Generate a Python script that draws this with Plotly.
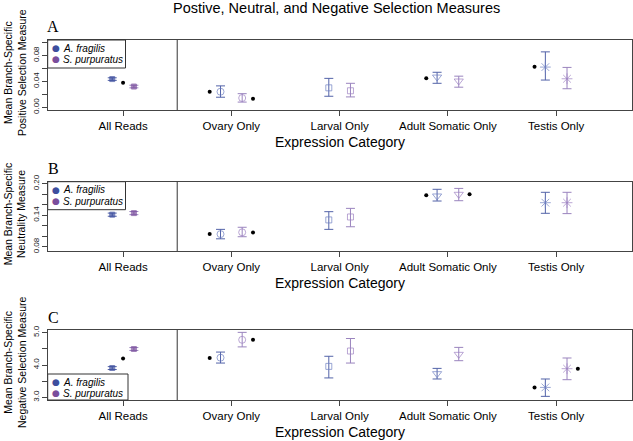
import plotly.graph_objects as go

W, H = 633, 441

categories = ["All Reads", "Ovary Only", "Larval Only", "Adult Somatic Only", "Testis Only"]
species = ["A. fragilis", "S. purpuratus"]

# Panel A: positive selection
posA_frag = [0.0435, 0.024, 0.030, 0.0466, 0.062]
posA_frag_lo = [0.0415, 0.0155, 0.017, 0.037, 0.042]
posA_frag_hi = [0.0455, 0.033, 0.0446, 0.054, 0.0855]
posA_purp = [0.032, 0.0143, 0.0255, 0.0405, 0.044]
posA_purp_lo = [0.030, 0.008, 0.016, 0.031, 0.0286]
posA_purp_hi = [0.034, 0.021, 0.037, 0.048, 0.0615]
sigA_cat = ["All Reads", "Ovary Only", "Ovary Only", "Adult Somatic Only", "Testis Only"]
sigA_side = ["center", "left", "right", "left", "left"]
sigA_val = [0.038, 0.024, 0.013, 0.0446, 0.0625]

# Panel B: neutrality
neuB_frag = [0.141, 0.104, 0.131, 0.1766, 0.1638]
neuB_frag_lo = [0.138, 0.095, 0.113, 0.167, 0.1436]
neuB_frag_hi = [0.144, 0.113, 0.1467, 0.1893, 0.1836]
neuB_purp = [0.144, 0.1074, 0.1366, 0.1798, 0.1638]
neuB_purp_lo = [0.141, 0.099, 0.118, 0.1676, 0.143]
neuB_purp_hi = [0.147, 0.117, 0.153, 0.191, 0.1836]
sigB_cat = ["Ovary Only", "Ovary Only", "Adult Somatic Only", "Adult Somatic Only"]
sigB_side = ["left", "right", "left", "right"]
sigB_val = [0.104, 0.107, 0.178, 0.180]

# Panel C: negative selection
negC_frag = [3.907, 4.226, 3.957, 3.732, 3.307]
negC_frag_lo = [3.86, 4.06, 3.60, 3.567, 3.03]
negC_frag_hi = [3.95, 4.40, 4.27, 3.895, 3.567]
negC_purp = [4.495, 4.78, 4.433, 4.33, 3.886]
negC_purp_lo = [4.45, 4.56, 4.06, 4.133, 3.545]
negC_purp_hi = [4.54, 5.01, 4.82, 4.545, 4.217]
sigC_cat = ["All Reads", "Ovary Only", "Ovary Only", "Testis Only", "Testis Only"]
sigC_side = ["center", "left", "right", "left", "right"]
sigC_val = [4.20, 4.22, 4.78, 3.307, 3.886]

yticksA = [0.00, 0.02, 0.04, 0.06, 0.08, 0.10]
ylabelsA = ["0.00", "", "0.04", "", "0.08", ""]
yticksB = [0.08, 0.10, 0.12, 0.14, 0.16, 0.18, 0.20]
ylabelsB = ["0.08", "", "", "0.14", "", "", "0.20"]
yticksC = [3.0, 3.5, 4.0, 4.5, 5.0]
ylabelsC = ["3.0", "", "4.0", "", "5.0"]

# ---- styling ----
symbols = ["square", "circle-open", "square-open", "triangle-down-open", "asterisk-open"]
sizes = [5, 7, 6, 8, 9]
frag_fill = "#3D4E9E"
frag_open = "#6F80C2"
frag_err = "#5363A8"
purp_fill = "#7A4E9C"
purp_open = "#9C80C2"
purp_err = "#9A84BE"
OFF = 0.1
SIG_OFF = 0.2
side_off = {"left": -SIG_OFF, "center": 0.0, "right": SIG_OFF}
FONT = "Liberation Sans, Arial, sans-serif"

def px2x(p):
    return p / W

def py2y(p):
    return 1 - p / H

def note(text, px, py, size, family=FONT, color="black", xanchor="center", angle=0):
    return dict(text=text, xref="paper", yref="paper", x=px2x(px), y=py2y(py),
                xanchor=xanchor, yanchor="middle", showarrow=False, textangle=angle,
                font=dict(family=family, size=size, color=color))

x_dom = [px2x(47.7), px2x(632)]
panels = [
    dict(top=40, bot=110, frag=(posA_frag, posA_frag_lo, posA_frag_hi),
         purp=(posA_purp, posA_purp_lo, posA_purp_hi),
         sig=(sigA_cat, sigA_side, sigA_val), rng=[-0.0042, 0.1038],
         tv=yticksA, tt=ylabelsA, letter="A",
         ytitle="Mean Branch-Specific<br>Positive Selection Measure", leg="top"),
    dict(top=181.7, bot=251, frag=(neuB_frag, neuB_frag_lo, neuB_frag_hi),
         purp=(neuB_purp, neuB_purp_lo, neuB_purp_hi),
         sig=(sigB_cat, sigB_side, sigB_val), rng=[0.0718, 0.2038],
         tv=yticksB, tt=ylabelsB, letter="B",
         ytitle="Mean Branch-Specific<br>Neutrality Measure", leg="top"),
    dict(top=330, bot=400, frag=(negC_frag, negC_frag_lo, negC_frag_hi),
         purp=(negC_purp, negC_purp_lo, negC_purp_hi),
         sig=(sigC_cat, sigC_side, sigC_val), rng=[2.917, 5.083],
         tv=yticksC, tt=ylabelsC, letter="C",
         ytitle="Mean Branch-Specific<br>Negative Selection Measure", leg="bottom"),
]

fig = go.Figure()
shapes = []
annotations = []
xpos = list(range(1, len(categories) + 1))

for i, p in enumerate(panels):
    k = "" if i == 0 else str(i + 1)
    xa, ya = "x" + k, "y" + k
    for (vals, lo, hi), off, fill, opn, ecol in [
        (p["frag"], -OFF, frag_fill, frag_open, frag_err),
        (p["purp"], OFF, purp_fill, purp_open, purp_err),
    ]:
        cols = [fill] + [opn] * (len(vals) - 1)
        fig.add_trace(go.Scatter(
            x=[c + off for c in xpos], y=vals, mode="markers",
            xaxis=xa, yaxis=ya, showlegend=False, hoverinfo="skip",
            marker=dict(symbol=symbols, size=sizes, color=cols,
                        line=dict(width=1, color=cols)),
            error_y=dict(type="data", symmetric=False,
                         array=[h - v for h, v in zip(hi, vals)],
                         arrayminus=[v - l for v, l in zip(vals, lo)],
                         color=ecol, thickness=1, width=4.5),
        ))
    scat, sside, sval = p["sig"]
    fig.add_trace(go.Scatter(
        x=[categories.index(c) + 1 + side_off[s] for c, s in zip(scat, sside)],
        y=sval, mode="markers", xaxis=xa, yaxis=ya, showlegend=False,
        hoverinfo="skip", marker=dict(symbol="circle", size=4, color="black"),
    ))
    ydom = [py2y(p["bot"]), py2y(p["top"])]
    fig.layout["xaxis" + k] = dict(
        domain=x_dom, range=[0.304, 5.70], anchor=ya, automargin=False,
        tickvals=xpos, ticktext=categories, ticks="outside", ticklen=5,
        tickcolor="#444", showline=True, linecolor="#444", linewidth=1,
        mirror=True, showgrid=False, zeroline=False,
        tickfont=dict(family=FONT, size=11.5, color="black"),
    )
    fig.layout["yaxis" + k] = dict(
        domain=ydom, range=p["rng"], anchor=xa, automargin=False,
        tickvals=p["tv"], ticktext=p["tt"], ticks="outside", ticklen=5,
        tickcolor="#444", showline=True, linecolor="#444", linewidth=1,
        mirror=True, showgrid=False, zeroline=False, tickangle=-90,
        tickfont=dict(family=FONT, size=8, color="#222"),
    )
    shapes.append(dict(type="line", xref=xa, yref=ya + " domain",
                       x0=1.5, x1=1.5, y0=0, y1=1,
                       line=dict(color="#333", width=1)))
    annotations.append(note(p["letter"], 53, p["top"] - 13, 16,
                            family="Liberation Serif, serif"))
    mid = (p["top"] + p["bot"]) / 2 - 2
    annotations.append(note(p["ytitle"], 15, mid, 10.5, angle=-90))
    annotations.append(note("Expression Category", 340, p["bot"] + 32, 14))
    if p["leg"] == "top":
        bx0, bx1, by0, by1 = 47.7, 125.5, p["top"], p["top"] + 28
    else:
        bx0, bx1, by0, by1 = 47.7, 128, p["bot"] - 26, p["bot"]
    shapes.append(dict(type="rect", xref="paper", yref="paper",
                       x0=px2x(bx0), x1=px2x(bx1), y0=py2y(by1), y1=py2y(by0),
                       fillcolor="white", line=dict(color="#333", width=1), layer="above"))
    for j, (name, col) in enumerate(zip(species, [frag_fill, purp_fill])):
        yy = by0 + 8 + j * 11.3
        annotations.append(note("●", 56, yy, 9, family="DejaVu Sans", color=col))
        annotations.append(note("<i>" + name + "</i>", 61, yy, 10, xanchor="left"))

annotations.append(note("Postive, Neutral, and Negative Selection Measures", 336.5, 8, 14.5))

fig.update_layout(template="none", width=W, height=H,
                  margin=dict(l=0, r=0, t=0, b=0, pad=0, autoexpand=False),
                  paper_bgcolor="white", plot_bgcolor="white",
                  shapes=shapes, annotations=annotations, showlegend=False)

fig.write_html("out.html", config={"displayModeBar": False},
               post_script="document.body.style.margin='0px';")
